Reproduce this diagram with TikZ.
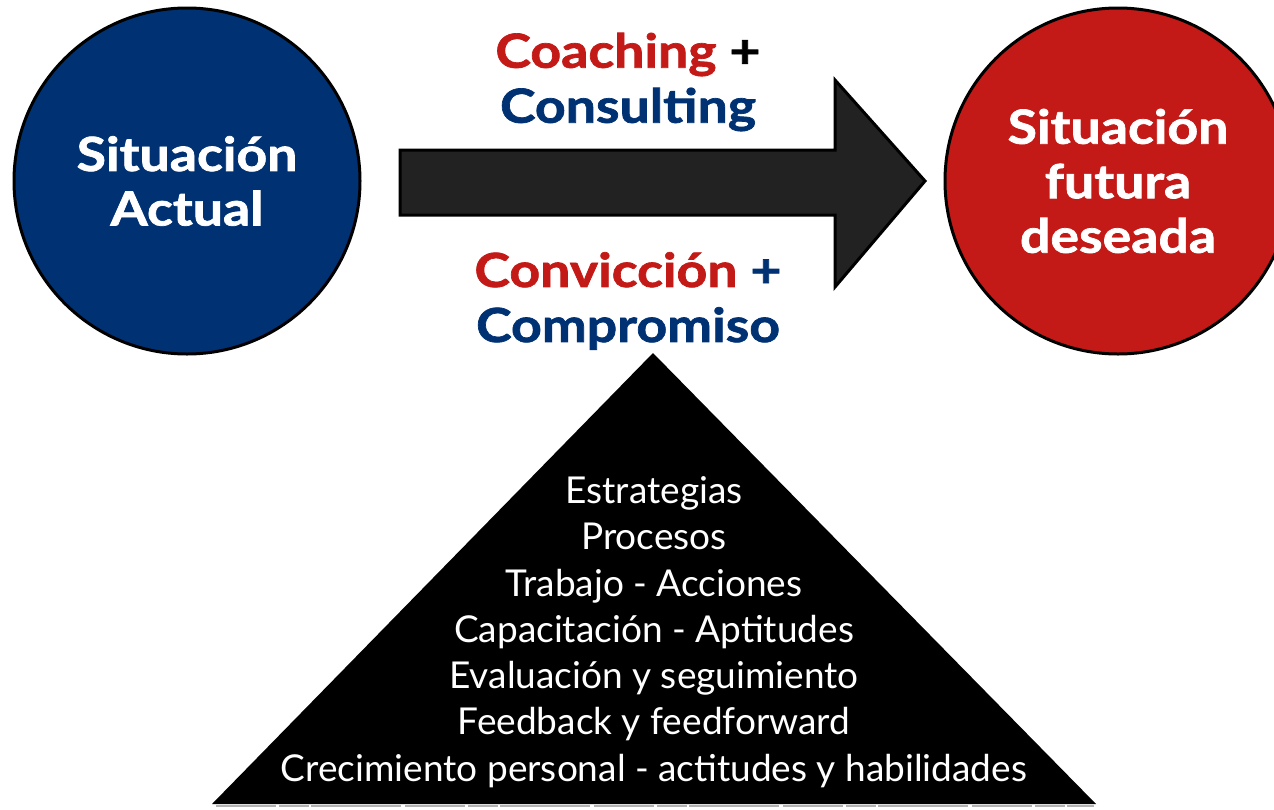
\documentclass[tikz,border=0pt]{standalone}
\usepackage{fontspec}
\setmainfont{Lato}
\newfontfamily\heavy{Lato}[BoldFeatures={FakeStretch=1.14, FakeBold=1.5}]
\usetikzlibrary{positioning}
\definecolor{navy}{RGB}{0,50,115}
\definecolor{crimson}{RGB}{196,26,23}
\definecolor{arrowgray}{RGB}{34,34,34}
\tikzset{
  state/.style={circle, draw=black, line width=3pt, minimum size=346pt, inner sep=0pt,
    text=white, align=center, font=\fontsize{47}{54.5}\heavy\bfseries},
  caption/.style={align=center, font=\fontsize{47}{55}\heavy\bfseries, inner sep=0pt},
  steps/.style={align=center, text=white, font=\fontsize{37}{46.3}\selectfont, inner sep=0pt},
}
\begin{document}
\begin{tikzpicture}[x=1pt,y=-1pt]
  \useasboundingbox (0,0) rectangle (1274,809);

  % current and desired situations
  \node[state, fill=navy] (now) at (187,181) {Situación\\Actual};
  \node[state, fill=crimson] (goal) at (1118,181) {Situación\\futura\\deseada};

  % block arrow between them
  \draw[fill=arrowgray, draw=black, line width=3pt, line join=miter]
    (400,150) -- (835,150) -- (835,80) -- (925,181) -- (835,287) -- (835,215) -- (400,215) -- cycle;
  \coordinate (tip) at (925,181);

  % labels above and below the arrow
  \node[caption] (top) at (628,82) {\textcolor{crimson}{Coaching} +\\\textcolor{navy}{Consulting}};
  \node[caption] (bottom) at (628,301) {\textcolor{crimson}{Convicción} \textcolor{navy}{+}\\\textcolor{navy}{Compromiso}};

  % pyramid of supporting elements
  \fill[black] (653,353) -- (1096,804) -- (212,804) -- cycle;
  \draw[gray!60, line width=2.5pt, dash pattern=on 60pt off 3pt on 30pt off 2pt on 90pt off 4pt]
    (216,806) -- (1094,806);
  \node[steps] (list) at (654,632) {Estrategias\\Procesos\\Trabajo - Acciones\\Capacitación - Aptitudes\\Evaluación y seguimiento\\Feedback y feedforward\\Crecimiento personal - actitudes y habilidades};
\end{tikzpicture}
\end{document}
